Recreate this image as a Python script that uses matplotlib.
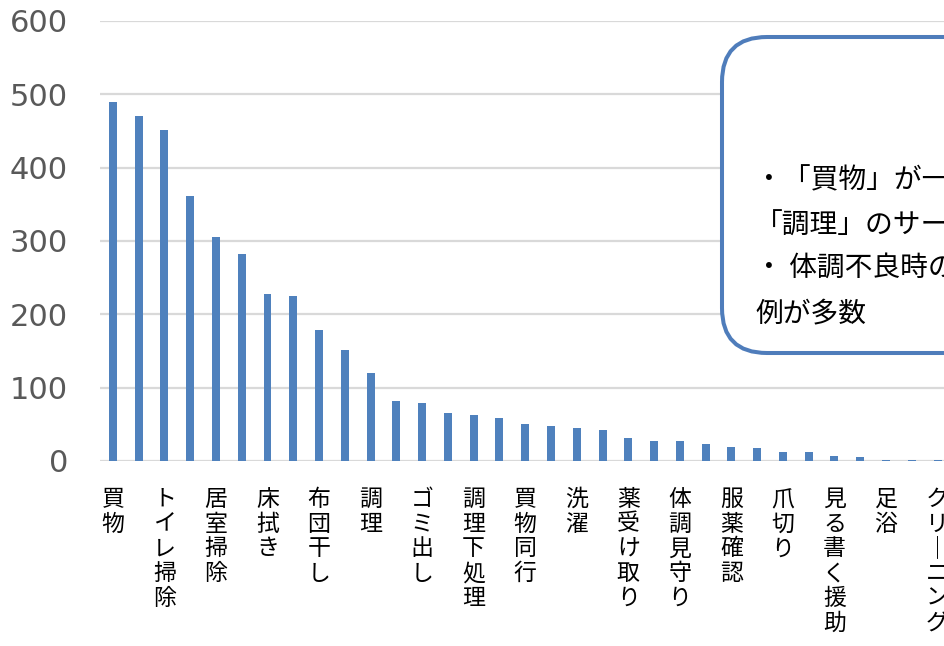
import matplotlib
matplotlib.use("Agg")
import matplotlib.pyplot as plt
from matplotlib.patches import FancyBboxPatch

# service counts, largest first
values = [489, 470, 451, 361, 305, 282, 228, 225, 178, 152, 120,
          82, 79, 66, 63, 59, 51, 48, 45, 42, 31, 27, 27, 23, 19,
          18, 12, 12, 7, 5, 2, 1.5, 1.5]
# only every other category carries a label on the axis
tick_labels = ["買物", "トイレ掃除", "居室掃除", "床拭き", "布団干し", "調理",
               "ゴミ出し", "調理下処理", "買物同行", "洗濯", "薬受け取り",
               "体調見守り", "服薬確認", "爪切り", "見る書く援助", "足浴",
               "クリーニング"]
y_ticks = [0, 100, 200, 300, 400, 500, 600]
note_lines = ["・「買物」が一番多く、次いで「掃除」",
              "「調理」のサービスが多い",
              "・ 体調不良時の見守りを行っている",
              "例が多数"]

BAR = "#4f81bd"
GRID = "#d9d9d9"
JP = ["Noto Sans CJK JP", "DejaVu Sans"]

W, H = 944, 646
fig = plt.figure(figsize=(W / 100, H / 100), dpi=100)

unit = 25.77          # pixels per category
n_slots = 35
left, bottom, top = 100, 461, 21
ax = fig.add_axes([left / W, (H - bottom) / H, n_slots * unit / W, (bottom - top) / H])

x = list(range(len(values)))
ax.bar(x, values, width=0.31, color=BAR, zorder=3)
ax.set_xlim(-0.5, n_slots - 0.5)
ax.set_ylim(0, 600)
ax.set_yticks(y_ticks)
ax.set_xticks([])
ax.grid(axis="y", color=GRID, linewidth=1.6, zorder=0)
ax.tick_params(axis="y", length=0, pad=23, labelsize=22, labelcolor="#595959")
for s in ax.spines.values():
    s.set_visible(False)

# stacked (vertical) category labels
pitch = 24.7
for j, lab in enumerate(tick_labels):
    pos = 2 * j
    for k, ch in enumerate(lab):
        if ch == "ー":
            ch = "｜"
        ax.annotate(ch, xy=(pos, 0), xycoords=("data", "axes fraction"),
                    xytext=(0, -27 - k * pitch), textcoords="offset pixels",
                    ha="center", va="top", fontsize=16.5, family=JP,
                    color="black", annotation_clip=False)

# rounded note box running off the right edge
box = FancyBboxPatch((7.22, 2.93), 4.0, 3.16,
                     boxstyle="round,pad=0,rounding_size=0.45",
                     transform=fig.dpi_scale_trans, facecolor="white",
                     edgecolor="#4f7dbb", linewidth=2.9, zorder=10)
fig.add_artist(box)

line_y = [180, 225, 268, 313]
for yy, txt in zip(line_y, note_lines):
    fig.text(755 / W, 1 - yy / H, txt, ha="left", va="center",
             fontsize=20, family=JP, color="black", zorder=11)

fig.savefig("out.png", dpi=100)
